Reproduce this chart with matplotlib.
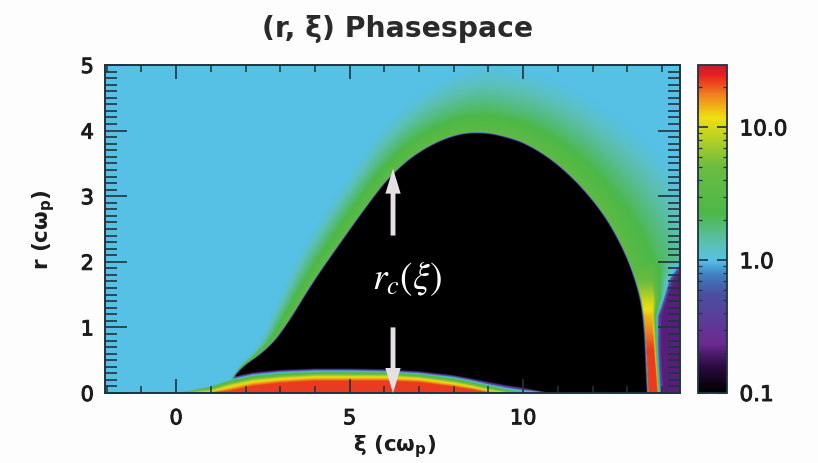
import numpy as np
import matplotlib
matplotlib.use("Agg")
import matplotlib.pyplot as plt
import matplotlib.patheffects as pe
from matplotlib.colors import LinearSegmentedColormap, LogNorm
from matplotlib.ticker import MultipleLocator, FixedLocator, FixedFormatter, LogLocator, NullFormatter

plt.rcParams['font.family'] = ['DejaVu Sans']
plt.rcParams['mathtext.fontset'] = 'dejavusans'

# bubble edge
bubble_xi = [1.5, 1.64, 2.62, 3.2, 3.78, 4.3, 5.65, 6.25, 7.03, 8.0, 8.8, 9.5, 10.2, 11.15, 12.13, 12.8, 13.28, 13.52, 13.6, 13.62]
bubble_r = [0.0, 0.32, 0.67, 1.08, 1.59, 2.0, 3.0, 3.38, 3.72, 3.96, 4.0, 3.93, 3.8, 3.46, 2.91, 2.35, 1.74, 1.17, 0.17, 0.0]
# how far green and the fade to cyan reach from that edge, pixels along the ray
green_w = [0.5, 0.5, 3, 7, 9, 11, 14, 16, 18, 20, 22, 22, 24, 26, 28, 30, 30, 30, 30, 30]
fade_w = [1, 1, 10, 18, 24, 30, 38, 46, 54, 62, 68, 70, 72, 76, 84, 90, 90, 90, 90, 90]

# beam on the axis, radius of each colour per column
beam_xi = [0.0, 0.5, 1.0, 1.5, 2.2, 3.0, 4.0, 5.0, 6.0, 7.0, 8.0, 8.5, 9.0, 9.5, 10.0, 10.7]
beam_red = [0, 0, 0, 0.02, 0.10, 0.15, 0.18, 0.18, 0.18, 0.16, 0.09, 0.05, 0, 0, 0, 0]
beam_yellow = [0, 0, 0.02, 0.10, 0.18, 0.22, 0.25, 0.25, 0.25, 0.22, 0.15, 0.10, 0.04, 0, 0, 0]
beam_green = [0, 0.03, 0.08, 0.16, 0.24, 0.28, 0.30, 0.30, 0.30, 0.27, 0.20, 0.15, 0.09, 0.03, 0, 0]
beam_blue = [0, 0.05, 0.11, 0.20, 0.28, 0.32, 0.34, 0.34, 0.33, 0.30, 0.24, 0.19, 0.13, 0.08, 0.04, 0]
beam_top = [0, 0.06, 0.13, 0.23, 0.31, 0.35, 0.37, 0.37, 0.36, 0.33, 0.27, 0.22, 0.17, 0.12, 0.08, 0]

# wake spike behind the bubble, per row
wake_r = [0.0, 0.67, 1.17, 1.43, 1.74, 1.97]
wake_hot = [1.35, 1.35, 1.15, 0.95, 0.65, 0.45]
wake_hot_end = [13.88, 13.78, 13.72, 13.75, 13.70, 13.70]
wake_cyan = [13.95, 13.88, 13.88, 14.05, 14.22, 14.52]
wake_purple = [14.05, 13.98, 13.98, 14.15, 14.36, 14.72]

cbar_pos = [0.0, 0.08, 0.15, 0.30, 0.36, 0.405, 0.45, 0.55, 0.69, 0.84, 0.91, 0.97, 1.0]
cbar_col = ['#000000', '#2a0a40', '#6a2a90', '#4a4fa0', '#3f7fc0', '#56c1e6', '#5cc0b8', '#4cb848',
            '#6cbc40', '#f0e010', '#f08020', '#e82020', '#c02030']

XI_MIN, XI_MAX = -2.05, 14.52
VMIN, VMAX = 0.1, 29.5
XI_PX, R_PX = 34.7, 65.6

cmap = LinearSegmentedColormap.from_list('phase', list(zip(cbar_pos, cbar_col)), N=512)

xi = np.linspace(XI_MIN, XI_MAX, 1150)
r = np.linspace(0, 5, 656)
X, R = np.meshgrid(xi, r)


def smooth(a, n=45):
    pad = np.pad(a, n, mode='edge')
    return np.convolve(pad, np.ones(2 * n + 1) / (2 * n + 1), mode='same')[n:-n]


# background and halo, worked out on rays from inside the bubble
cx = 8.0
idx = np.arange(len(bubble_xi))
fine = np.linspace(0, len(bubble_xi) - 1, 1600)
bx = smooth(np.interp(fine, idx, bubble_xi))
br = smooth(np.interp(fine, idx, bubble_r))
bg = np.interp(fine, idx, green_w)
bf = np.interp(fine, idx, fade_w)
ang = np.arctan2(br * R_PX, (bx - cx) * XI_PX)
rho_edge = np.hypot(br * R_PX, (bx - cx) * XI_PX)
order = np.argsort(ang)
theta = np.arctan2(R * R_PX, (X - cx) * XI_PX)
rho = np.hypot(R * R_PX, (X - cx) * XI_PX)
edge = np.interp(theta, ang[order], rho_edge[order])
gw = np.interp(theta, ang[order], bg[order])
fw = np.interp(theta, ang[order], bf[order])
d = rho - edge

field = np.zeros_like(d)
out = d >= 0
field[out] = np.where(d[out] < gw[out], 0.55 - 0.25 * d[out] / gw[out],
                      np.where(d[out] < fw[out], 0.30 * ((fw[out] - d[out]) / (fw[out] - gw[out])) ** 1.3, 0.0))
rim = (d < 0) & (d > -2.0)
field[rim] = -1 + (0.55 + 1) * (d[rim] + 2.0) / 2.0
field[d <= -2.0] = -1

# wake
for i in np.where(r < wake_r[-1])[0]:
    ri = r[i]
    stops = [np.interp(ri, wake_r, wake_hot_end), np.interp(ri, wake_r, wake_cyan), np.interp(ri, wake_r, wake_purple)]
    vals = [np.interp(ri, wake_r, wake_hot), 0.0, -0.68]
    col = (xi > 13.2) & (d[i] > 0)
    field[i, col] = np.interp(xi[col], stops, vals)

# beam
beam = np.full_like(field, -1.0)
for j, x in enumerate(xi):
    if x < beam_xi[0] or x > beam_xi[-1]:
        continue
    rs = [np.interp(x, beam_xi, b) + k * 1e-3 for k, b in
          enumerate([beam_red, beam_yellow, beam_green, beam_blue, beam_top])]
    beam[:, j] = np.interp(r, rs, [1.35, 1.0, 0.45, -0.15, -1.0])
field = np.maximum(field, beam)

fig = plt.figure(figsize=(8.18, 4.64), dpi=100, facecolor='#fdfdfd')
ax = fig.add_axes([105 / 818, 1 - 394 / 464, 575 / 818, 328 / 464])
im = ax.imshow(10 ** field, origin='lower', extent=[XI_MIN, XI_MAX, 0, 5], aspect='auto', cmap=cmap,
               norm=LogNorm(VMIN, VMAX), interpolation='bilinear')

dark = '#1f3340'
txt = '#1c1c1c'
heavy = [pe.withStroke(linewidth=0.7, foreground=txt)]
ax.xaxis.set_major_locator(MultipleLocator(5))
ax.xaxis.set_minor_locator(MultipleLocator(1))
ax.yaxis.set_major_locator(MultipleLocator(1))
ax.yaxis.set_minor_locator(MultipleLocator(0.1))
ax.tick_params(axis='x', which='major', direction='in', top=True, length=10, width=1.2, color=dark,
               labelsize=15, pad=11, labelcolor=txt)
ax.tick_params(axis='x', which='minor', direction='in', top=True, length=5, width=1.1, color=dark)
ax.tick_params(axis='y', which='major', direction='in', right=True, length=16, width=1.2, color=dark,
               labelsize=15, pad=8, labelcolor=txt)
ax.tick_params(axis='y', which='minor', direction='in', right=True, length=8.5, width=1.2, color=dark)
for s in ax.spines.values():
    s.set_color(dark)
    s.set_linewidth(1.4)
for t in ax.get_xticklabels() + ax.get_yticklabels():
    t.set_path_effects(heavy)

fig.text(398 / 818, 1 - 29 / 464, '(r, ξ) Phasespace', ha='center', va='center', fontsize=20.3,
         fontweight='bold', color='#2a2a2a')
fig.text(395 / 818, 1 - 447 / 464, r'ξ (c$\mathbf{\omega_{p}}$)', ha='center', va='center', fontsize=15.5,
         fontweight='bold', color=txt)
fig.text(44 / 818, 1 - 230 / 464, r'r (c$\mathbf{\omega_{p}}$)', ha='center', va='center', rotation=90,
         fontsize=15.5, fontweight='bold', color=txt)

# arrows and the annotation pasted on the black part
arrow = '#e6dfe6'
style = 'simple,head_width=1.1,head_length=1.8,tail_width=0.35'
ax.annotate('', xy=(6.25, 3.42), xytext=(6.25, 2.4),
            arrowprops=dict(arrowstyle=style, color=arrow, lw=0, shrinkA=0, shrinkB=0))
ax.annotate('', xy=(6.25, 0.0), xytext=(6.25, 1.0),
            arrowprops=dict(arrowstyle=style, color=arrow, lw=0, shrinkA=0, shrinkB=0))
ax.text(6.66, 1.76, r'$r_c(\xi)$', color='white', fontsize=27, ha='center', va='center',
        math_fontfamily='stix')

cax = fig.add_axes([698 / 818, 1 - 394 / 464, 29 / 818, 328 / 464])
cb = fig.colorbar(im, cax=cax)
cb.outline.set_edgecolor(dark)
cb.outline.set_linewidth(1.3)
cax.yaxis.set_major_locator(FixedLocator([0.1, 1.0, 10.0]))
cax.yaxis.set_major_formatter(FixedFormatter(['0.1', '1.0', '10.0']))
cax.yaxis.set_minor_locator(LogLocator(base=10, subs=np.arange(2, 10) * 0.1 * 10, numticks=10))
cax.yaxis.set_minor_formatter(NullFormatter())
cax.tick_params(which='major', direction='in', left=True, right=True, length=7, width=1.2, color=dark,
                labelsize=15.5, pad=9, labelcolor=txt)
cax.tick_params(which='minor', direction='in', left=True, right=True, length=3, width=0.9, color=dark)
for t in cax.get_yticklabels():
    t.set_path_effects(heavy)

fig.savefig('out.png', dpi=100, facecolor=fig.get_facecolor())
